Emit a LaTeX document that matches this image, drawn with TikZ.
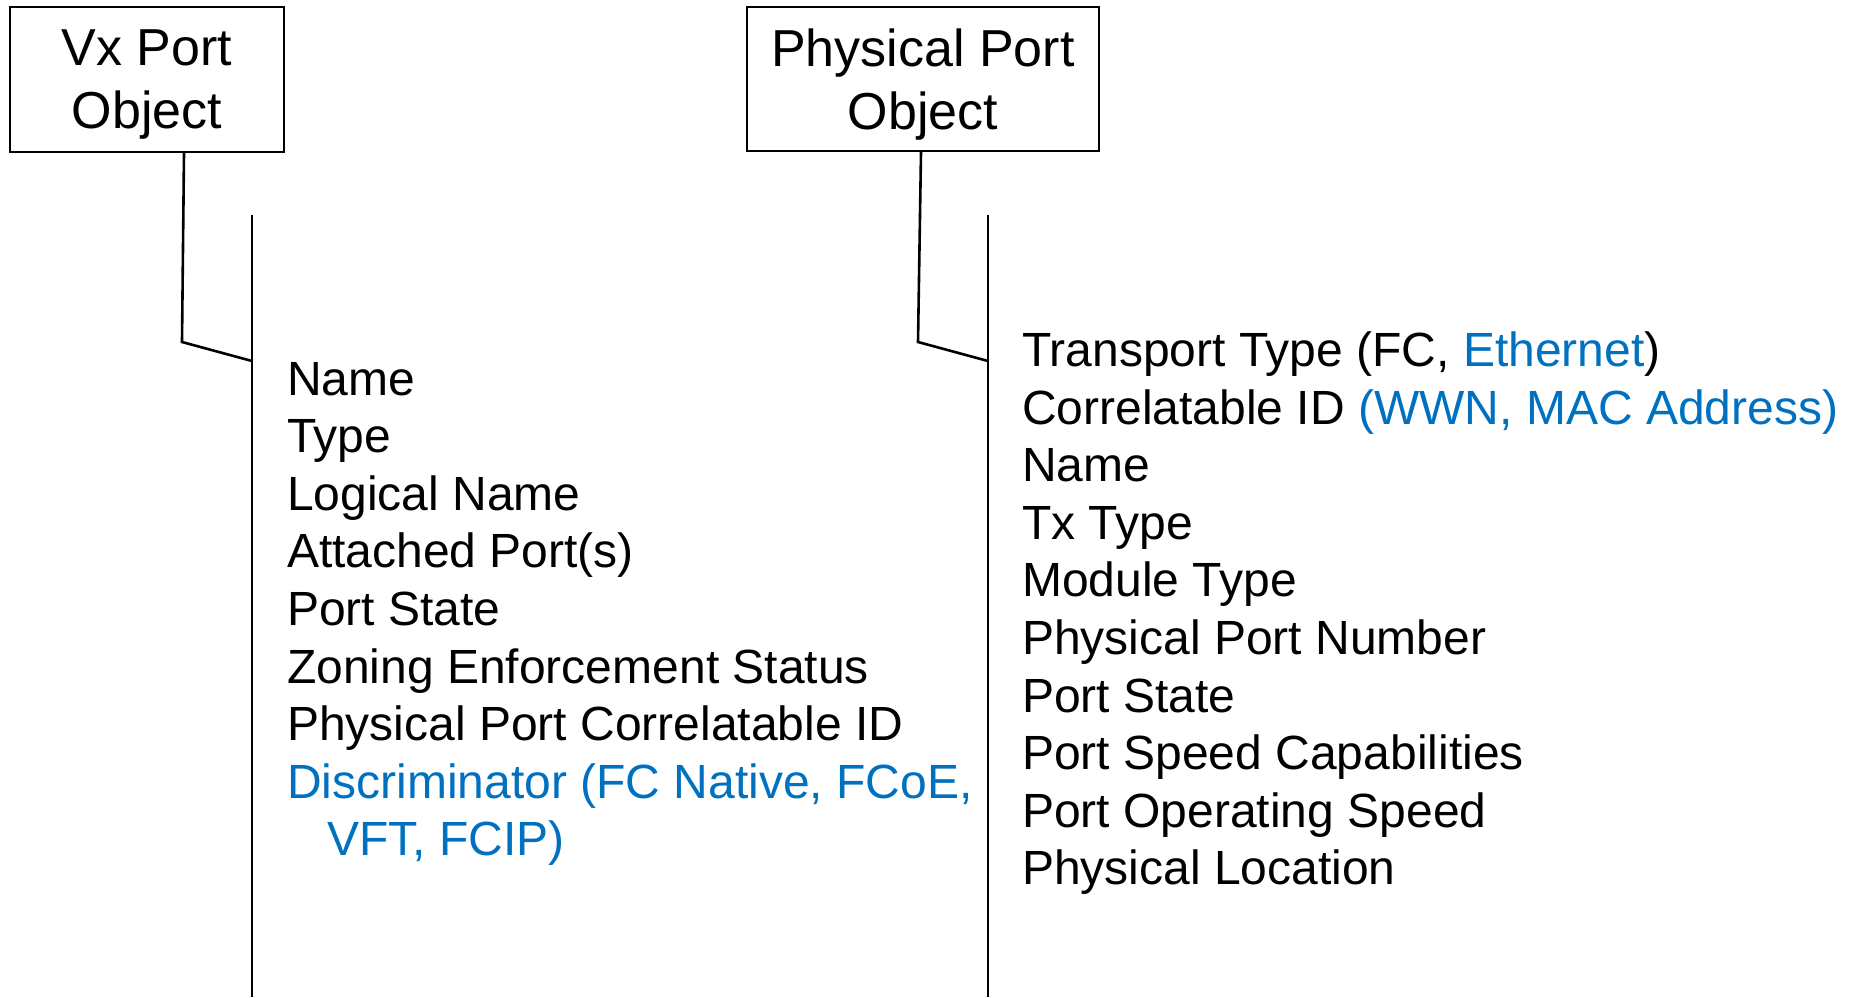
\documentclass[tikz,border=0pt]{standalone}
\usepackage{fontspec}
\setmainfont{Liberation Sans}
\usepackage{xcolor}
\usepackage{tikz}
\usetikzlibrary{positioning}

\definecolor{attrblue}{HTML}{0070C0}

\tikzset{
  objbox/.style={draw,line width=2.4pt,align=center,inner sep=0pt,text depth=0pt,
    font=\fontsize{52}{63}\selectfont},
  attr/.style={anchor=base west,inner sep=0pt,font=\fontsize{48}{57.6}\selectfont},
  link/.style={line width=2.6pt},
}

\begin{document}
\begin{tikzpicture}[x=1pt,y=-1pt]
    \useasboundingbox (0,0) rectangle (1853,997);
    % the two objects
    \node[objbox,minimum width=274pt,minimum height=145pt] (vx) at (147,79.5) {Vx Port\\Object};
    \node[objbox,minimum width=352pt,minimum height=144pt] (phys) at (923,79) {Physical Port\\Object};
    % attribute bars
    \coordinate (vxtop) at (252,215);
    \coordinate (vxbot) at (252,997);
    \coordinate (phtop) at (988,215);
    \coordinate (phbot) at (988,997);
    \draw[link] (vxtop) -- (vxbot);
    \draw[link] (phtop) -- (phbot);
    \coordinate (vxtap) at (252,361);
    \coordinate (phtap) at (988,361);
    \draw[link] ([xshift=37pt]vx.south) -- (182,342) -- (vxtap);
    \draw[link] ([xshift=-2pt]phys.south) -- (918,342) -- (phtap);
    % attribute lists
    \foreach \i/\t in {0/Name, 1/Type, 2/Logical Name, 3/Attached Port(s), 4/Port State,
        5/Zoning Enforcement Status, 6/Physical Port Correlatable ID,
        7/{\textcolor{attrblue}{Discriminator (FC Native, FCoE,}},
        8/{\hspace*{40pt}\textcolor{attrblue}{VFT, FCIP)}}} {
      \node[attr] (vxattr\i) at (287,{395+57.6*\i}) {\t};
    }
    \foreach \i/\t in {0/{Transport Type (FC, \textcolor{attrblue}{Ethernet})},
        1/{Correlatable ID \textcolor{attrblue}{(WWN, MAC Address)}},
        2/Name, 3/Tx Type, 4/Module Type, 5/Physical Port Number, 6/Port State,
        7/Port Speed Capabilities, 8/Port Operating Speed, 9/Physical Location} {
      \node[attr] (phattr\i) at (1022,{366.5+57.6*\i}) {\t};
    }
\end{tikzpicture}
\end{document}
